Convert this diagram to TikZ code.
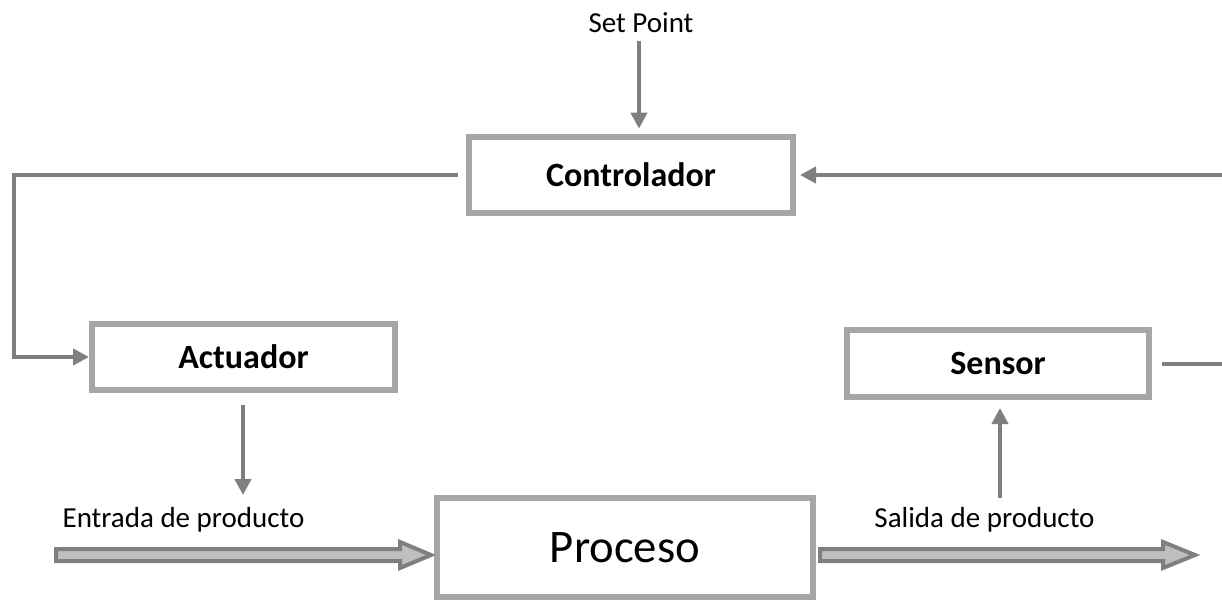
\documentclass[tikz,border=0pt]{standalone}
\usepackage{fontspec}
\setmainfont{Carlito}
\usetikzlibrary{arrows.meta,calc}
\definecolor{linegray}{HTML}{7F7F7F}
\definecolor{boxgray}{HTML}{A6A6A6}
\definecolor{fillgray}{HTML}{BFBFBF}
\tikzset{
  blk/.style={draw=boxgray, line width=4.5pt, fill=white, inner sep=0pt, font=\fontsize{25.5}{30}\selectfont\bfseries},
  conn/.style={draw=linegray, line width=3pt, -{Triangle[length=12pt,width=12pt]}},
  plainconn/.style={draw=linegray, line width=3pt},
  lbl/.style={inner sep=0pt, anchor=base, font=\fontsize{21.75}{26}\selectfont},
  fat/.style={draw=linegray, fill=fillgray, line width=3pt, line join=miter}
}
\begin{document}
\begin{tikzpicture}[x=0.75pt,y=-0.75pt]
\clip (0,0) rectangle (1222,600);
\fill[white] (0,0) rectangle (1222,600);

\node[blk, minimum width=243pt, minimum height=57pt] (ctrl) at (631,175) {Controlador};
\node[blk, minimum width=227.25pt, minimum height=49.5pt] (act) at (243.5,357) {Actuador};
\node[blk, minimum width=226.5pt, minimum height=50.25pt] (sens) at (998,363.5) {Sensor};
\node[blk, minimum width=282pt, minimum height=74.25pt, font=\fontsize{35}{42}\selectfont] (proc) at (625,547.5) {Proceso};

\node[lbl] (sp) at (641,32) {Set Point};
\node[lbl] (ent) at (183.5,527) {Entrada de producto};
\node[lbl] (sal) at (984.5,527) {Salida de producto};

% coordinates
\coordinate (lx) at (14,0);
\coordinate (rx) at (1240,0);
\coordinate (spa) at (639,41);
\coordinate (spb) at (639,0);
\coordinate (actd) at (243,405);
\coordinate (actt) at (243,495);
\coordinate (senb) at (1000,498);
\coordinate (sent) at (1000,408);
\coordinate (ein) at (56,555);
\coordinate (eintip) at (431,555);
\coordinate (sin) at (820,555);
\coordinate (sintip) at (1195,555);

% connectors
\draw[conn] (spa) -- (spa |- ctrl.north) [shorten >=4pt];
\draw[conn] ([xshift=-6pt]ctrl.west) -- (ctrl.west -| lx) |- (act.west);
\draw[conn] (act.south -| actd) ++(0,12) -- (actt);
\draw[conn] (senb) -- (sent);
\draw[plainconn, -{Triangle[length=12pt,width=12pt]}, shorten >=3pt] ([xshift=7.5pt]sens.east) -- (sens.east -| rx) |- (ctrl.east);

% fat arrows
\draw[fat] ($(ein)+(0,-6)$) -- ($(eintip)+(-31,-6)$) -- ($(eintip)+(-31,-13)$) -- (eintip) -- ($(eintip)+(-31,13)$) -- ($(eintip)+(-31,6)$) -- ($(ein)+(0,6)$) -- cycle;
\draw[fat] ($(sin)+(0,-6)$) -- ($(sintip)+(-32,-6)$) -- ($(sintip)+(-32,-13)$) -- (sintip) -- ($(sintip)+(-32,13)$) -- ($(sintip)+(-32,6)$) -- ($(sin)+(0,6)$) -- cycle;
\end{tikzpicture}
\end{document}
